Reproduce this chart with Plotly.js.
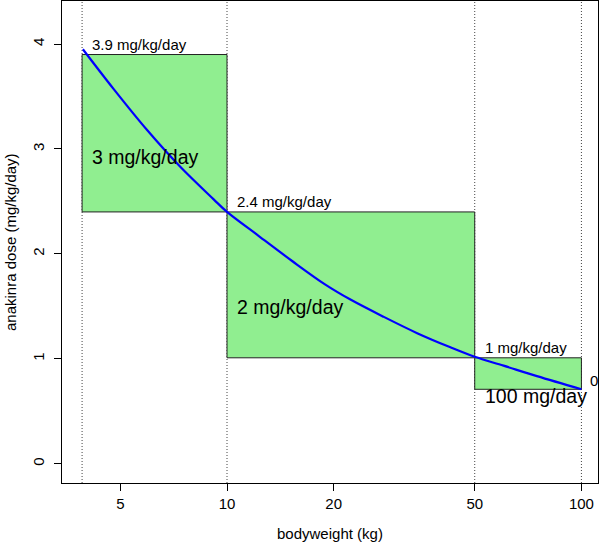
<!DOCTYPE html>
<html>
<head>
<meta charset="utf-8">
<script src="https://cdn.plot.ly/plotly-3.0.1.min.js"></script>
<style>html,body{margin:0;padding:0;background:#fff;}#chart{width:600px;height:543px;}</style>
</head>
<body>
<div id="chart"></div>
<script>
// Curve: dose (mg/kg/day) vs bodyweight (kg)
const weights = [3.92, 4.79, 5.95, 7.38, 9.17, 10, 12.3, 15.3, 18.9, 22.3, 27.7, 34.4, 42.7, 50, 60.3, 74.9, 100];
const doses   = [3.95, 3.57, 3.18, 2.83, 2.52, 2.40, 2.17, 1.93, 1.71, 1.565, 1.40, 1.245, 1.11, 1.02, 0.935, 0.835, 0.71];

// Dosing bands
const bandX0 = [3.9, 10, 50];
const bandX1 = [10, 50, 100];
const bandLow  = [2.4, 1.01, 0.71];
const bandHigh = [3.9, 2.4, 1.01];
const bandTopLabels = ["3.9 mg/kg/day", "2.4 mg/kg/day", "1 mg/kg/day"];
const bandMainLabels = ["3 mg/kg/day", "2 mg/kg/day", "100 mg/day"];
const bandMainY = [2.92, 1.49, 0.645];

// Dotted reference weights
const cutWeights = [3.9, 10, 50, 100];

// Axis ticks
const xTicks = [5, 10, 20, 50, 100];
const xTickText = ["5", "10", "20", "50", "100"];
const yTicks = [0, 1, 2, 3, 4];
const yTickText = ["0", "1", "2", "3", "4"];

const xRange = [0.5344, 2.0468];
const yRange = [-0.183, 4.41];
const FONT = "Liberation Sans, Arial, Helvetica, sans-serif";

const traces = [];
cutWeights.forEach(w => {
  traces.push({
    x: [w, w], y: yRange, mode: "lines", type: "scatter",
    line: {color: "#444", width: 1, dash: "1px,2px"},
    hoverinfo: "skip", showlegend: false
  });
});
for (let i = 0; i < bandX0.length; i++) {
  traces.push({
    x: [bandX0[i], bandX1[i], bandX1[i], bandX0[i], bandX0[i]],
    y: [bandLow[i], bandLow[i], bandHigh[i], bandHigh[i], bandLow[i]],
    mode: "lines", type: "scatter", fill: "toself", fillcolor: "#90EE90",
    line: {color: "#222", width: 1}, hoverinfo: "skip", showlegend: false
  });
}
traces.push({
  x: weights, y: doses, mode: "lines", type: "scatter",
  line: {color: "#0000FF", width: 2.2, shape: "spline", smoothing: 1}, showlegend: false
});

const annotations = [];
const lg = v => Math.log10(v);
for (let i = 0; i < bandX0.length; i++) {
  annotations.push({
    x: lg(bandX0[i]), y: bandHigh[i], xref: "x", yref: "y",
    text: bandTopLabels[i], showarrow: false, xanchor: "left", yanchor: "bottom",
    xshift: 8, yshift: 0, font: {family: FONT, size: 15, color: "#000"}
  });
  annotations.push({
    x: lg(bandX0[i]), y: bandMainY[i], xref: "x", yref: "y",
    text: bandMainLabels[i], showarrow: false, xanchor: "left", yanchor: "middle",
    xshift: 8, font: {family: FONT, size: 19.5, color: "#000"}
  });
}
annotations.push({
  x: lg(100), y: 0.79, xref: "x", yref: "y", text: "0", showarrow: false,
  xanchor: "left", yanchor: "middle", xshift: 7, font: {family: FONT, size: 15, color: "#000"}
});
annotations.push({
  x: 0.5, y: 0, xref: "paper", yref: "paper", text: "bodyweight (kg)", showarrow: false,
  xanchor: "center", yanchor: "middle", yshift: -50, font: {family: FONT, size: 15, color: "#000"}
});
annotations.push({
  x: 0, y: 0.5, xref: "paper", yref: "paper", text: "anakinra dose (mg/kg/day)", showarrow: false,
  textangle: -90, xanchor: "center", yanchor: "middle", xshift: -52, font: {family: FONT, size: 15, color: "#000"}
});

const layout = {
  width: 600, height: 543,
  margin: {l: 62, r: 2, t: 1, b: 60, pad: 0},
  paper_bgcolor: "#fff", plot_bgcolor: "#fff",
  font: {family: FONT, size: 15, color: "#000"},
  showlegend: false,
  xaxis: {
    type: "log", range: xRange, tickvals: xTicks, ticktext: xTickText,
    ticks: "outside", ticklen: 7, tickcolor: "#000", tickwidth: 1,
    showline: true, mirror: true, linecolor: "#000", linewidth: 1,
    showgrid: false, zeroline: false, tickfont: {family: FONT, size: 15}, ticklabelstandoff: 0
  },
  yaxis: {
    range: yRange, tickvals: yTicks, ticktext: yTickText, tickangle: -90,
    ticks: "outside", ticklen: 7, tickcolor: "#000", tickwidth: 1,
    showline: true, mirror: true, linecolor: "#000", linewidth: 1,
    showgrid: false, zeroline: false, tickfont: {family: FONT, size: 15}, ticklabelstandoff: 4
  },
  annotations: annotations
};

Plotly.newPlot("chart", traces, layout, {staticPlot: true, displayModeBar: false});
</script>
</body>
</html>
